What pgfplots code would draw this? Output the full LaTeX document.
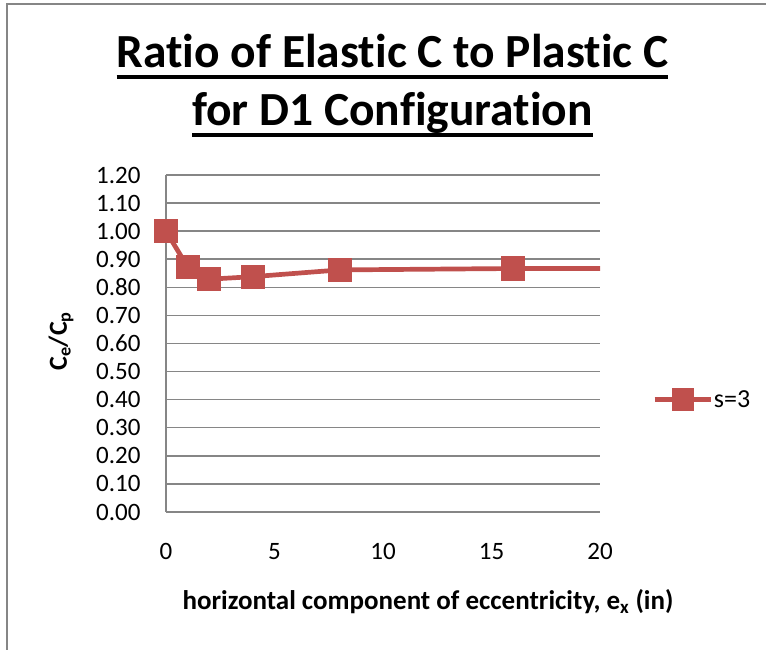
\documentclass[border=0pt]{standalone}
\usepackage{pgfplots}
\pgfplotsset{compat=1.18}
\usepackage{fontspec}
\setmainfont{Carlito}[Ligatures=NoCommon]
\definecolor{exred}{HTML}{C0504D}
\definecolor{gridgray}{HTML}{868686}
\newcommand\ul[1]{\setbox0\hbox{#1}\rlap{\rule[-11pt]{\wd0}{4pt}}\box0}
\begin{document}
\begin{tikzpicture}
\useasboundingbox (-166pt,-138pt) rectangle (600pt,512pt);
\draw[gridgray, line width=1.5pt] (-159pt,-140pt) -- (-159pt,508pt) -- (602pt,508pt);
\node[anchor=base, inner sep=0pt, font=\fontsize{47.5}{55}\selectfont\bfseries] at (226.5pt,444pt) {\ul{Ratio of Elastic C to Plastic C}};
\node[anchor=base, inner sep=0pt, font=\fontsize{47.5}{55}\selectfont\bfseries] at (226.5pt,386pt) {\ul{for D1 Configuration}};
\begin{axis}[
  at={(0pt,0pt)}, anchor=south west,
  scale only axis, width=434pt, height=337pt,
  xmin=0, xmax=20, ymin=0, ymax=1.2,
  xtick={0,5,10,15,20},
  ytick={0,0.1,0.2,0.3,0.4,0.5,0.6,0.7,0.8,0.9,1.0,1.1,1.2},
  yticklabel style={/pgf/number format/fixed, /pgf/number format/fixed zerofill, /pgf/number format/precision=2, xshift=-22pt},
  /pgf/number format/assume math mode=true,
  tick label style={font=\fontsize{25}{30}\selectfont},
  xticklabel style={yshift=-28pt},
  major tick length=0pt,
  axis lines=left,
  axis line style={gridgray, line width=1.5pt, -},
  ymajorgrids,
  grid style={gridgray, line width=1.5pt},
  clip mode=individual,
  xlabel={horizontal component of eccentricity, e\textsubscript{x} (in)},
  xlabel style={font=\fontsize{27}{30}\selectfont\bfseries, at={(axis description cs:0.6037,-0.289)}, anchor=base},
  ylabel={C\textsubscript{e}/C\textsubscript{p}},
  ylabel style={font=\fontsize{26}{30}\selectfont\bfseries, at={(axis description cs:-0.242,0.507)}, anchor=center},
  legend style={at={(axis description cs:1.12,0.334)}, anchor=west, draw=none, fill=none, inner sep=0pt,
    font=\fontsize{26}{30}\selectfont, nodes={inner sep=1pt}},
  legend image code/.code={\draw[exred, line width=4.7pt] (0pt,0pt) -- (56pt,0pt);
    \fill[exred] (19.5pt,-8.8pt) rectangle (37pt,8.8pt);},
]
\addplot[exred, line width=4.7pt, mark=square*, mark size=9.75pt, mark indices={1,...,6},
  mark options={fill=exred, draw=none}]
  coordinates {(0,1.00) (1,0.872) (2,0.829) (4,0.838) (8,0.862) (16,0.867) (32,0.868)};
\addlegendentry{s=3}
\end{axis}
\end{tikzpicture}
\end{document}
